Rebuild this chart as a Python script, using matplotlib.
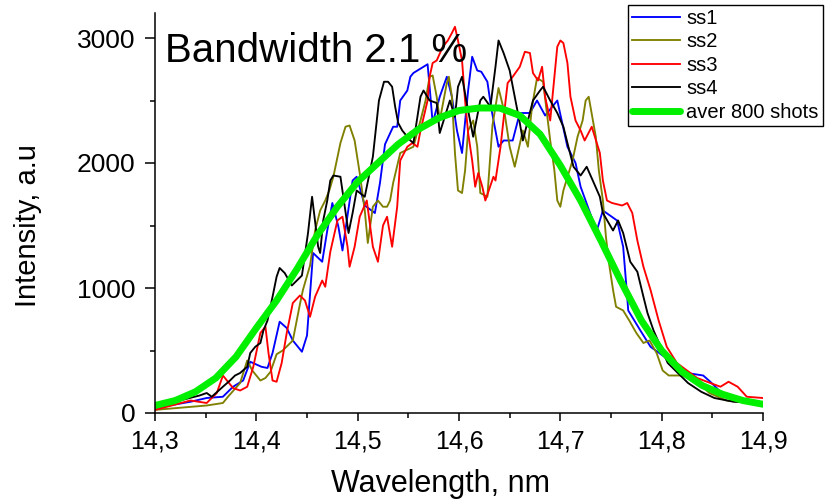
import numpy as np
import matplotlib
matplotlib.use("Agg")
import matplotlib.pyplot as plt
from matplotlib.ticker import MultipleLocator, FixedLocator, FixedFormatter

plt.rcParams['font.family'] = ['Liberation Sans', 'DejaVu Sans']

# single shots (wavelength in nm, intensity in a.u.)
wl_ss1 = [14.300, 14.335, 14.351, 14.367, 14.377, 14.387, 14.394, 14.405, 14.411, 14.416,
          14.423, 14.430, 14.436, 14.445, 14.450, 14.456, 14.465, 14.470, 14.475, 14.481,
          14.485, 14.495, 14.499, 14.507, 14.517, 14.522, 14.527, 14.535, 14.539, 14.542,
          14.549, 14.552, 14.555, 14.565, 14.569, 14.571, 14.574, 14.581, 14.588, 14.593,
          14.598, 14.603, 14.609, 14.613, 14.618, 14.622, 14.628, 14.632, 14.639, 14.644,
          14.653, 14.660, 14.670, 14.677, 14.685, 14.697, 14.707, 14.715, 14.720, 14.732,
          14.736, 14.742, 14.756, 14.762, 14.766, 14.767, 14.779, 14.789, 14.801, 14.811,
          14.825, 14.841, 14.848, 14.858, 14.865, 14.877, 14.900]
ss1 = [40, 90, 120, 130, 210, 260, 410, 370, 360, 480,
       730, 680, 580, 490, 620, 1280, 1210, 1460, 1680, 1490,
       1300, 1860, 1890, 1660, 1600, 1840, 2150, 2290, 2290, 2500,
       2580, 2690, 2720, 2770, 2790, 2610, 2320, 2530, 2690, 2530,
       2260, 2080, 2580, 2850, 2740, 2730, 2650, 2430, 2130, 2180,
       2180, 2400, 2400, 2500, 2380, 2500, 2130, 2000, 1810, 1540,
       1460, 1620, 1540, 1330, 930, 820, 660, 530, 460, 400,
       320, 300, 250, 170, 130, 90, 80]

wl_ss2 = [14.300, 14.351, 14.367, 14.372, 14.384, 14.391, 14.396, 14.404, 14.409, 14.414,
          14.420, 14.426, 14.436, 14.443, 14.446, 14.453, 14.458, 14.463, 14.468, 14.472,
          14.476, 14.483, 14.488, 14.492, 14.497, 14.502, 14.507, 14.510, 14.515, 14.520,
          14.525, 14.529, 14.532, 14.535, 14.542, 14.555, 14.562, 14.567, 14.571, 14.574,
          14.578, 14.581, 14.588, 14.590, 14.593, 14.596, 14.599, 14.603, 14.606, 14.609,
          14.614, 14.618, 14.621, 14.628, 14.633, 14.639, 14.645, 14.650, 14.655, 14.663,
          14.668, 14.672, 14.677, 14.683, 14.690, 14.694, 14.697, 14.700, 14.703, 14.712,
          14.717, 14.722, 14.725, 14.728, 14.735, 14.738, 14.742, 14.745, 14.748, 14.752,
          14.755, 14.762, 14.768, 14.775, 14.782, 14.788, 14.795, 14.801, 14.807, 14.821,
          14.834, 14.847, 14.864, 14.887, 14.900]
ss2 = [25, 60, 80, 130, 240, 420, 340, 260, 280, 330,
       470, 500, 580, 870, 985, 1180, 1460, 1620, 1700, 1780,
       1890, 2160, 2290, 2300, 2180, 1920, 1620, 1360, 1650, 1700,
       1650, 1650, 1700, 1840, 2080, 2130, 2340, 2500, 2690, 2700,
       2530, 2340, 2640, 2690, 2530, 2080, 1780, 1760, 1940, 2260,
       2340, 2130, 1760, 1730, 2300, 2600, 2400, 2130, 1970, 2260,
       2130, 2450, 2680, 2650, 2180, 1950, 1700, 1650, 1780, 2020,
       2210, 2340, 2500, 2530, 2210, 1940, 1700, 1410, 1200, 985,
       850, 820, 740, 640, 560, 580, 480, 340, 300, 300,
       260, 160, 100, 80, 64]

wl_ss3 = [14.300, 14.335, 14.351, 14.361, 14.367, 14.377, 14.384, 14.391, 14.397, 14.404,
          14.409, 14.412, 14.416, 14.420, 14.425, 14.430, 14.436, 14.443, 14.448, 14.453,
          14.458, 14.465, 14.468, 14.473, 14.480, 14.485, 14.490, 14.492, 14.497, 14.502,
          14.509, 14.515, 14.520, 14.525, 14.529, 14.534, 14.539, 14.542, 14.549, 14.554,
          14.559, 14.562, 14.569, 14.571, 14.574, 14.578, 14.584, 14.589, 14.593, 14.596,
          14.599, 14.603, 14.606, 14.609, 14.613, 14.616, 14.619, 14.623, 14.626, 14.634,
          14.636, 14.641, 14.646, 14.648, 14.653, 14.660, 14.665, 14.670, 14.673, 14.678,
          14.682, 14.685, 14.690, 14.697, 14.700, 14.703, 14.707, 14.710, 14.715, 14.720,
          14.724, 14.731, 14.739, 14.742, 14.746, 14.751, 14.761, 14.766, 14.771, 14.776,
          14.782, 14.789, 14.797, 14.805, 14.815, 14.825, 14.835, 14.848, 14.858, 14.866,
          14.875, 14.884, 14.900]
ss3 = [25, 100, 80, 160, 300, 200, 180, 210, 370, 640,
       690, 480, 260, 250, 400, 640, 880, 940, 900, 770,
       930, 1060, 1010, 1290, 1540, 1570, 1330, 1170, 1330, 1570,
       1700, 1330, 1210, 1500, 1570, 1330, 1650, 2020, 2130, 2160,
       2130, 2260, 2500, 2690, 2800, 2820, 2930, 2980, 3040, 3090,
       2980, 2820, 2500, 2240, 2020, 1810, 1920, 1810, 1700, 1890,
       1860, 2130, 2500, 2640, 2690, 2770, 2890, 2880, 2720, 2660,
       2770, 2530, 2340, 2930, 2980, 2960, 2800, 2530, 2340, 2260,
       2180, 2290, 2080, 1860, 1700, 1680, 1660, 1680, 1600, 1380,
       1170, 985, 740, 530, 400, 340, 280, 240, 210, 250,
       210, 130, 120]

wl_ss4 = [14.300, 14.344, 14.351, 14.356, 14.367, 14.374, 14.379, 14.384, 14.391, 14.394,
          14.399, 14.404, 14.407, 14.411, 14.416, 14.420, 14.423, 14.428, 14.435, 14.440,
          14.445, 14.451, 14.455, 14.461, 14.463, 14.466, 14.470, 14.473, 14.476, 14.483,
          14.491, 14.495, 14.499, 14.507, 14.515, 14.521, 14.526, 14.530, 14.534, 14.537,
          14.540, 14.544, 14.552, 14.555, 14.562, 14.565, 14.571, 14.578, 14.581, 14.591,
          14.596, 14.599, 14.603, 14.609, 14.614, 14.621, 14.624, 14.631, 14.636, 14.639,
          14.644, 14.650, 14.655, 14.660, 14.663, 14.673, 14.680, 14.683, 14.690, 14.697,
          14.703, 14.707, 14.713, 14.720, 14.726, 14.732, 14.739, 14.742, 14.752, 14.757,
          14.762, 14.769, 14.776, 14.782, 14.786, 14.792, 14.799, 14.806, 14.816, 14.826,
          14.839, 14.852, 14.871, 14.900]
ss4 = [50, 140, 160, 130, 210, 260, 300, 320, 370, 480,
       530, 560, 660, 740, 930, 1090, 1160, 1120, 1020, 1060,
       1100, 1440, 1730, 1330, 1280, 1540, 1700, 1860, 1900, 1890,
       1440, 1600, 1780, 1730, 2050, 2500, 2650, 2650, 2610, 2450,
       2320, 2260, 2180, 2160, 2530, 2580, 2500, 2480, 2240, 2500,
       2370, 2610, 2690, 2420, 2210, 2500, 2530, 2450, 2770, 2980,
       2880, 2740, 2530, 2320, 2180, 2500, 2580, 2610, 2500, 2400,
       2290, 2160, 1970, 1900, 1970, 1860, 1730, 1600, 1460, 1540,
       1440, 1210, 1130, 930, 800, 660, 530, 400, 320, 240,
       170, 120, 90, 80]

# average over 800 shots
wl_avg = [14.30, 14.32, 14.34, 14.36, 14.38, 14.40, 14.42, 14.44, 14.46, 14.48,
          14.50, 14.52, 14.54, 14.56, 14.58, 14.60, 14.62, 14.64, 14.66, 14.68,
          14.70, 14.72, 14.74, 14.76, 14.78, 14.80, 14.82, 14.84, 14.86, 14.88, 14.90]
avg = [60, 100, 170, 280, 450, 680, 900, 1150, 1420, 1650,
       1850, 2000, 2150, 2270, 2360, 2420, 2440, 2440, 2380, 2230,
       1980, 1700, 1380, 1050, 740, 500, 330, 220, 150, 100, 70]

xticks = [14.3, 14.4, 14.5, 14.6, 14.7, 14.8, 14.9]
xtick_labels = ['14,3', '14,4', '14,5', '14,6', '14,7', '14,8', '14,9']
yticks = [0, 1000, 2000, 3000]

fig = plt.figure(figsize=(8.27, 5.04), dpi=100)
ax = fig.add_axes([155 / 827, 1 - 413 / 504, 608 / 827, 400 / 504])

ax.plot(wl_ss1, ss1, color='#0000ff', lw=1.35, label='ss1')
ax.plot(wl_ss2, ss2, color='#808000', lw=1.35, label='ss2')
ax.plot(wl_ss3, ss3, color='#ff0000', lw=1.35, label='ss3')
ax.plot(wl_ss4, ss4, color='#000000', lw=1.35, label='ss4')
ax.plot(wl_avg, avg, color='#00f000', lw=5, solid_capstyle='round', label='aver 800 shots')

ax.set_xlim(14.3, 14.9)
ax.set_ylim(0, 3200)
ax.spines['top'].set_visible(False)
ax.spines['right'].set_visible(False)
for s in ('left', 'bottom'):
    ax.spines[s].set_linewidth(1.1)

ax.xaxis.set_major_locator(FixedLocator(xticks))
ax.xaxis.set_major_formatter(FixedFormatter(xtick_labels))
ax.xaxis.set_minor_locator(MultipleLocator(0.05))
ax.yaxis.set_major_locator(FixedLocator(yticks))
ax.yaxis.set_minor_locator(MultipleLocator(500))
ax.tick_params(which='major', direction='out', length=6, width=1.1, labelsize=18, pad=6)
ax.tick_params(which='minor', direction='out', length=3.5, width=1.1)
ax.tick_params(axis='y', which='major', length=7, pad=7, labelsize=19)

ax.set_xlabel('Wavelength, nm', fontsize=22)
ax.set_ylabel('Intensity, a.u', fontsize=21)
ax.xaxis.set_label_coords(0.469, -0.14)
ax.yaxis.set_label_coords(-0.186, 0.4675)

ax.text(0.016, 0.8775, 'Bandwidth 2.1 %', transform=ax.transAxes,
        fontsize=29, va='baseline', ha='left')

leg = ax.legend(loc='upper left', bbox_to_anchor=(628 / 827, 1 - 5 / 504),
                bbox_transform=fig.transFigure, borderaxespad=0,
                fontsize=14.5, handlelength=2.4, handletextpad=0.3,
                labelspacing=0.22, borderpad=0.2, fancybox=False,
                framealpha=1, edgecolor='black')
leg.get_frame().set_linewidth(1.0)

fig.savefig('out.png', dpi=100)
